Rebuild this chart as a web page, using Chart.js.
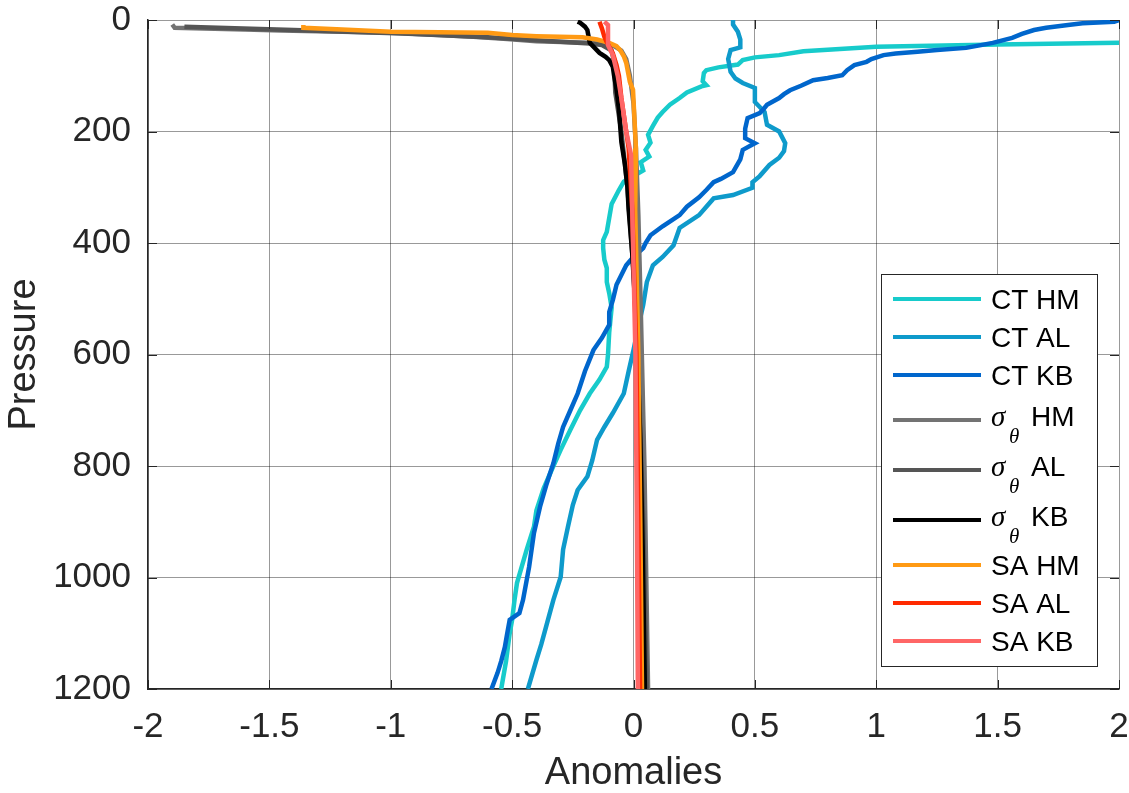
<!DOCTYPE html>
<html>
<head>
<meta charset="utf-8">
<title>Anomalies vs Pressure</title>
<script src="https://cdn.jsdelivr.net/npm/chart.js@4"></script>
<style>
  html, body { margin: 0; padding: 0; background: #fff; }
  #wrap { width: 1129px; height: 793px; }
</style>
</head>
<body>
<div id="wrap"><canvas id="myChart" width="1129" height="793"></canvas></div>
<script>
// values (pressure in dbar, anomaly)
const xTicks = [-2, -1.5, -1, -0.5, 0, 0.5, 1, 1.5, 2];
const yTicks = [0, 200, 400, 600, 800, 1000, 1200];

const pCtHm = [36, 41, 44, 48, 52, 56, 63, 67, 72, 80, 85, 90, 95, 110, 117, 119, 130, 140, 152, 165, 175, 190, 206, 220, 233, 245, 255, 270, 280, 290, 305, 330, 355, 380, 395, 409, 430, 445, 470, 490, 516, 560, 600, 622, 645, 670, 700, 735, 771, 800, 840, 880, 909, 950, 1010, 1040, 1076, 1100, 1150, 1200];
const xCtHm = [3.0, 2.0, 1.5, 1.0, 0.85, 0.7, 0.6, 0.5, 0.45, 0.43, 0.35, 0.3, 0.29, 0.285, 0.3, 0.28, 0.22, 0.19, 0.15, 0.12, 0.1, 0.08, 0.06, 0.07, 0.05, 0.065, 0.03, 0.04, 0.0, -0.04, -0.06, -0.09, -0.1, -0.11, -0.125, -0.125, -0.12, -0.11, -0.11, -0.1, -0.09, -0.1, -0.105, -0.11, -0.14, -0.18, -0.22, -0.26, -0.3, -0.33, -0.37, -0.4, -0.41, -0.44, -0.48, -0.49, -0.5, -0.51, -0.525, -0.545];

const pCtAl = [0, 8, 21, 35, 49, 54, 70, 93, 105, 113, 122, 147, 165, 188, 200, 221, 235, 247, 260, 280, 291, 301, 314, 320, 335, 350, 373, 404, 425, 440, 470, 511, 550, 592, 630, 670, 705, 730, 753, 790, 819, 843, 870, 909, 950, 999, 1040, 1088, 1120, 1148, 1200];
const xCtAl = [0.41, 0.41, 0.43, 0.44, 0.44, 0.4, 0.39, 0.4, 0.42, 0.45, 0.5, 0.5, 0.54, 0.55, 0.6, 0.625, 0.62, 0.6, 0.56, 0.52, 0.49, 0.49, 0.41, 0.33, 0.3, 0.27, 0.19, 0.165, 0.12, 0.08, 0.055, 0.04, 0.02, 0.0, -0.02, -0.04, -0.085, -0.12, -0.15, -0.17, -0.19, -0.23, -0.25, -0.27, -0.29, -0.3, -0.33, -0.36, -0.38, -0.4, -0.435];

const pCtKb = [0, 3, 6, 9, 14, 18, 25, 32, 41, 46, 50, 54, 57, 60, 63, 70, 75, 81, 90, 99, 104, 108, 118, 126, 133, 140, 152, 160, 167, 176, 195, 212, 221, 233, 250, 273, 285, 291, 305, 318, 335, 350, 370, 386, 400, 409, 425, 440, 475, 502, 524, 547, 570, 592, 630, 670, 700, 730, 760, 795, 835, 873, 920, 981, 1040, 1064, 1076, 1100, 1125, 1150, 1171, 1200];
const xCtKb = [2.0, 1.98, 1.85, 1.79, 1.7, 1.65, 1.6, 1.56, 1.48, 1.42, 1.37, 1.25, 1.17, 1.08, 1.03, 0.98, 0.96, 0.91, 0.88, 0.86, 0.8, 0.74, 0.69, 0.645, 0.62, 0.6, 0.55, 0.535, 0.52, 0.47, 0.46, 0.46, 0.5, 0.45, 0.44, 0.41, 0.36, 0.33, 0.3, 0.27, 0.22, 0.19, 0.12, 0.07, 0.05, 0.04, 0.0, -0.03, -0.07, -0.085, -0.1, -0.1, -0.13, -0.165, -0.2, -0.23, -0.26, -0.29, -0.31, -0.33, -0.36, -0.385, -0.41, -0.43, -0.455, -0.47, -0.51, -0.52, -0.53, -0.545, -0.56, -0.585];

const pSigHm = [8, 14, 17, 19, 23, 27, 30, 34, 38, 41, 43, 47, 55, 70, 100, 150, 230, 350, 520, 800, 1200];
const xSigHm = [-1.9, -1.89, -1.6, -1.45, -1.0, -0.8, -0.66, -0.52, -0.4, -0.19, -0.12, -0.08, -0.05, -0.03, -0.015, 0.0, 0.01, 0.02, 0.03, 0.045, 0.06];

const pSigAl = [12, 18, 24, 31, 39, 42, 45, 55, 75, 130, 200, 300, 450, 650, 900, 1200];
const xSigAl = [-1.85, -1.4, -0.95, -0.6, -0.3, -0.18, -0.13, -0.09, -0.08, -0.075, -0.05, -0.025, 0.0, 0.022, 0.04, 0.055];

const pSigKb = [3, 5, 12, 18, 30, 41, 50, 59, 66, 72, 84, 100, 125, 160, 219, 260, 300, 340, 420, 550, 750, 950, 1200];
const xSigKb = [-0.23, -0.22, -0.2, -0.19, -0.185, -0.18, -0.16, -0.14, -0.115, -0.1, -0.085, -0.08, -0.07, -0.06, -0.05, -0.035, -0.025, -0.02, -0.005, 0.012, 0.028, 0.038, 0.047];

const pSaHm = [9, 14, 17, 21, 23, 27, 29, 31, 35, 41, 47, 54, 65, 77, 111, 125, 230, 341, 600, 900, 1200];
const xSaHm = [-1.36, -1.36, -1.2, -1.0, -0.6, -0.5, -0.4, -0.21, -0.15, -0.1, -0.07, -0.055, -0.04, -0.03, -0.015, -0.002, 0.01, 0.007, 0.02, 0.028, 0.035];

const pSaAl = [3, 15, 30, 40, 60, 81, 100, 140, 230, 341, 600, 900, 1200];
const xSaAl = [-0.14, -0.13, -0.12, -0.11, -0.085, -0.07, -0.06, -0.05, -0.02, -0.005, 0.012, 0.02, 0.027];

const pSaKb = [3, 9, 30, 45, 63, 100, 140, 200, 242, 341, 600, 900, 1200];
const xSaKb = [-0.12, -0.105, -0.105, -0.105, -0.085, -0.065, -0.05, -0.03, -0.01, -0.005, 0.008, 0.014, 0.018];

const seriesNames = ['CT HM', 'CT AL', 'CT KB', 'σθ HM', 'σθ AL', 'σθ KB', 'SA HM', 'SA AL', 'SA KB'];
const seriesColors = ['#17CBCB', '#0E9ACB', '#0066CC', '#737373', '#555555', '#000000', '#FF9A14', '#FF2A00', '#FF6666'];
const seriesP = [pCtHm, pCtAl, pCtKb, pSigHm, pSigAl, pSigKb, pSaHm, pSaAl, pSaKb];
const seriesX = [xCtHm, xCtAl, xCtKb, xSigHm, xSigAl, xSigKb, xSaHm, xSaAl, xSaKb];

function toPoints(xs, ps) {
    return xs.map((x, i) => ({x: x, y: ps[i]}));
}

const datasets = seriesNames.map((name, i) => ({
    label: name,
    data: toPoints(seriesX[i], seriesP[i]),
    borderColor: seriesColors[i],
    backgroundColor: seriesColors[i],
    borderWidth: 4.5,
    pointRadius: 0,
    showLine: true,
    tension: 0,
    clip: 0,
    order: seriesNames.length - i
}));

const axisColor = '#262626';
const fontFamily = '"Liberation Sans", Arial, Helvetica, sans-serif';

// MATLAB-like inner tick marks on all four sides
const innerTicks = {
    id: 'innerTicks',
    afterDraw(chart) {
        const {ctx, chartArea: a, scales} = chart;
        const len = 9;
        ctx.save();
        ctx.strokeStyle = axisColor;
        ctx.lineWidth = 1;
        xTicks.forEach(v => {
            const px = Math.round(scales.x.getPixelForValue(v)) + 0.5;
            ctx.beginPath();
            ctx.moveTo(px, a.bottom); ctx.lineTo(px, a.bottom - len);
            ctx.moveTo(px, a.top); ctx.lineTo(px, a.top + len);
            ctx.stroke();
        });
        yTicks.forEach(v => {
            const py = Math.round(scales.y.getPixelForValue(v)) + 0.5;
            ctx.beginPath();
            ctx.moveTo(a.left, py); ctx.lineTo(a.left + len, py);
            ctx.moveTo(a.right, py); ctx.lineTo(a.right - len, py);
            ctx.stroke();
        });
        ctx.restore();
    }
};

// legend box drawn inside the axes, lower right
const boxLegend = {
    id: 'boxLegend',
    afterDraw(chart) {
        const {ctx, chartArea: a} = chart;
        const left = a.right - 238, top = a.top + 254, w = 216, h = 392;
        const rowY = [279, 317, 355, 400, 450, 500, 545, 583, 621];
        ctx.save();
        ctx.fillStyle = '#fff';
        ctx.fillRect(left, top, w, h);
        ctx.strokeStyle = axisColor;
        ctx.lineWidth = 1;
        ctx.strokeRect(left + 0.5, top + 0.5, w, h);
        seriesNames.forEach((name, i) => {
            const y = a.top + rowY[i];
            ctx.strokeStyle = seriesColors[i];
            ctx.lineWidth = 4;
            ctx.beginPath();
            ctx.moveTo(left + 12, y);
            ctx.lineTo(left + 100, y);
            ctx.stroke();
            ctx.fillStyle = '#000';
            ctx.textBaseline = 'alphabetic';
            const tx = left + 110;
            if (name.startsWith('σθ')) {
                ctx.font = 'italic 29px "Liberation Serif", "DejaVu Serif", serif';
                ctx.fillText('σ', tx, y + 6);
                ctx.font = 'italic 21px "Liberation Serif", "DejaVu Serif", serif';
                ctx.fillText('θ', tx + 18, y + 23);
                ctx.font = '28px ' + fontFamily;
                ctx.fillText(name.slice(3), tx + 40, y + 6);
            } else {
                ctx.font = '28px ' + fontFamily;
                ctx.fillText(name, tx, y + 10);
            }
        });
        ctx.restore();
    }
};

const config = {
    type: 'scatter',
    data: { datasets: datasets },
    options: {
        responsive: false,
        animation: false,
        layout: { padding: { left: 0, right: 10, top: 20, bottom: 0 } },
        plugins: {
            legend: { display: false },
            tooltip: { enabled: false }
        },
        scales: {
            x: {
                type: 'linear',
                min: -2,
                max: 2,
                afterFit(scale) {
                    scale.height = 104;
                    scale.paddingLeft = 0;
                    scale.paddingRight = 0;
                },
                afterBuildTicks(scale) { scale.ticks = xTicks.map(v => ({value: v})); },
                ticks: {
                    color: axisColor,
                    font: { family: fontFamily, size: 35 },
                    padding: 17,
                    maxRotation: 0,
                    callback: v => String(v)
                },
                grid: { color: 'rgba(0,0,0,0.4)', lineWidth: 1, drawTicks: false },
                border: { display: true, color: axisColor, width: 1.5 },
                title: {
                    display: true,
                    text: 'Anomalies',
                    color: axisColor,
                    font: { family: fontFamily, size: 38, lineHeight: 1 },
                    padding: { top: 0, bottom: 0 }
                }
            },
            y: {
                type: 'linear',
                reverse: true,
                min: 0,
                max: 1200,
                afterFit(scale) {
                    scale.width = 148;
                    scale.paddingTop = 0;
                    scale.paddingBottom = 0;
                },
                afterBuildTicks(scale) { scale.ticks = yTicks.map(v => ({value: v})); },
                ticks: {
                    color: axisColor,
                    font: { family: fontFamily, size: 35 },
                    padding: 17,
                    callback: v => String(v)
                },
                grid: { color: 'rgba(0,0,0,0.4)', lineWidth: 1, drawTicks: false },
                border: { display: true, color: axisColor, width: 1.5 },
                title: {
                    display: true,
                    text: 'Pressure',
                    color: axisColor,
                    font: { family: fontFamily, size: 38, lineHeight: 1 },
                    padding: { top: 6, bottom: 0 }
                }
            }
        }
    },
    plugins: [innerTicks, boxLegend]
};

const myChart = new Chart(document.getElementById('myChart').getContext('2d'), config);
</script>
</body>
</html>
